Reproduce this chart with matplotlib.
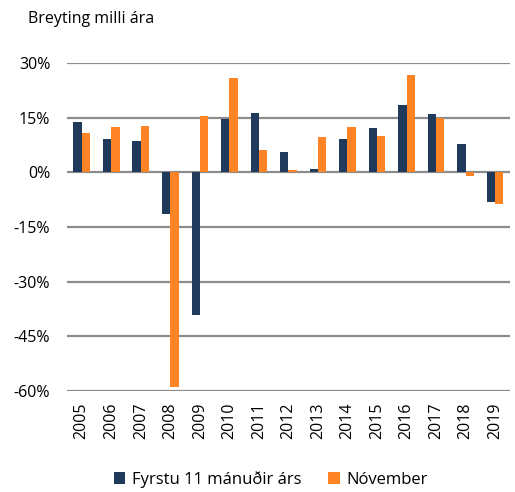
import numpy as np
import matplotlib.pyplot as plt
from matplotlib.ticker import FuncFormatter

plt.rcParams['font.family'] = ['Open Sans', 'DejaVu Sans']

years = ['2005', '2006', '2007', '2008', '2009', '2010', '2011', '2012',
         '2013', '2014', '2015', '2016', '2017', '2018', '2019']
first11 = [13.8, 9.2, 8.6, -11.3, -39.2, 14.6, 16.4, 5.7,
           1.0, 9.2, 12.1, 18.6, 15.9, 7.7, -8.0]
november = [10.8, 12.4, 12.8, -59.0, 15.5, 25.9, 6.0, 0.6,
            9.7, 12.5, 9.9, 26.6, 15.0, -1.0, -8.7]

navy = '#1f3a5a'
orange = '#ff8426'

fig = plt.figure(figsize=(5.15, 4.92), dpi=100)
ax = fig.add_axes([0.130, 0.205, 0.860, 0.667])

x = np.arange(len(years))
w = 0.28
ax.bar(x - w / 2, first11, w, color=navy, label='Fyrstu 11 mánuðir árs', zorder=3)
ax.bar(x + w / 2, november, w, color=orange, label='Nóvember', zorder=3)

ax.set_ylim(-60, 30)
ax.set_xlim(-0.5, len(years) - 0.5)
ax.set_yticks([-60, -45, -30, -15, 0, 15, 30])
ax.yaxis.set_major_formatter(FuncFormatter(lambda v, p: '{:.0f}%'.format(v)))
ax.set_xticks(x)
ax.set_xticklabels(years, rotation=90)
ax.tick_params(length=0, labelsize=11.5)
ax.tick_params(axis='y', pad=12)
ax.tick_params(axis='x', pad=8)
ax.grid(axis='y', color='#8c8c8c', linewidth=1.6, zorder=0)
for s in ax.spines.values():
    s.set_visible(False)

fig.text(0.055, 0.962, 'Breyting milli ára', fontsize=11.5, va='center')

ax.legend(loc='center', bbox_to_anchor=(0.46, -0.27), ncol=2, frameon=False,
          fontsize=12, handlelength=0.7, handleheight=0.7, columnspacing=1.6,
          handletextpad=0.4)

plt.savefig('out.png', dpi=100)
